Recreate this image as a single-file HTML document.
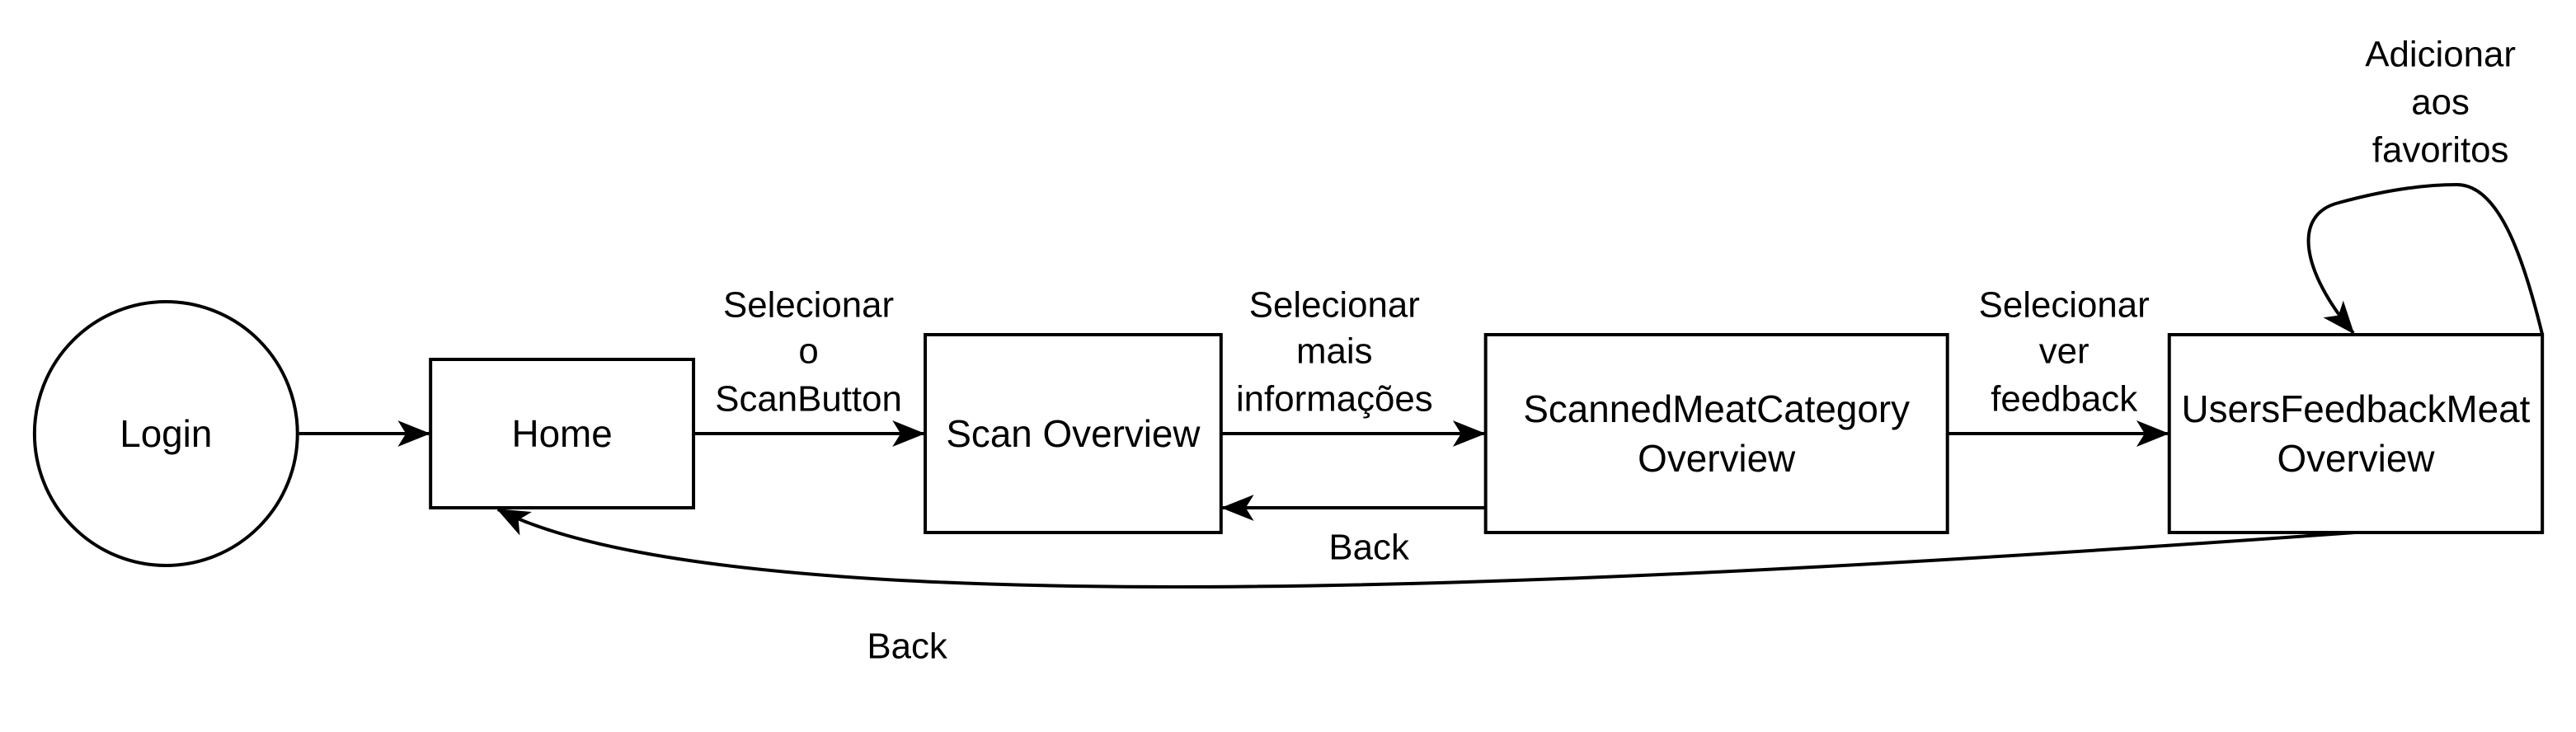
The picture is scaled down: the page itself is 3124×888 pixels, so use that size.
<!DOCTYPE html>
<html><head><meta charset="utf-8"><style>
html,body{margin:0;padding:0;background:#fff;}
svg{display:block;}
text{font-family:"Liberation Sans",Arial,sans-serif;font-size:44px;fill:#000;text-anchor:middle;dominant-baseline:central;}
text.b{font-size:46px;}
</style></head><body>
<svg width="3124" height="888" viewBox="0 0 3124 888" xmlns="http://www.w3.org/2000/svg">
<defs>
<marker id="ar" viewBox="0 0 40 32" refX="38" refY="16" markerWidth="40" markerHeight="32" orient="auto" markerUnits="userSpaceOnUse">
<path d="M0,0 L40,16 L0,32 L10,16 Z" fill="#000"/>
</marker>
</defs>
<g transform="translate(0,-2) scale(0.9965,1)">
<g fill="#fff" stroke="#000" stroke-width="4">
<circle cx="202" cy="528" r="160"/>
<rect x="524" y="438" width="320" height="180"/>
<rect x="1126" y="408" width="360" height="240"/>
<rect x="1808" y="408" width="562" height="240"/>
<rect x="2640" y="408" width="454" height="240"/>
</g>
<g fill="none" stroke="#000" stroke-width="4" marker-end="url(#ar)">
<line x1="364" y1="528" x2="522" y2="528"/>
<line x1="844" y1="528" x2="1124" y2="528"/>
<line x1="1486" y1="528" x2="1806" y2="528"/>
<line x1="2370" y1="528" x2="2638" y2="528"/>
<line x1="1808" y1="618" x2="1488" y2="618"/>
<path d="M2866,648 C2000,710 900,770 606,620"/>
<path d="M3094,408 C3070,310 3040,226 2990,226 C2940,226 2890,236 2846,248 C2790,262 2800,330 2864,406"/>
</g>
<text class="b" x="202" y="528">Login</text>
<text class="b" x="684" y="528">Home</text>
<text class="b" x="1306" y="528">Scan Overview</text>
<text class="b" x="2089" y="498">ScannedMeatCategory</text>
<text class="b" x="2089" y="558">Overview</text>
<text class="b" x="2867" y="498">UsersFeedbackMeat</text>
<text class="b" x="2867" y="558">Overview</text>
<text x="984" y="372">Selecionar</text>
<text x="984" y="428">o</text>
<text x="984" y="486">ScanButton</text>
<text x="1624" y="372">Selecionar</text>
<text x="1624" y="428">mais</text>
<text x="1624" y="486">informações</text>
<text x="2512" y="372">Selecionar</text>
<text x="2512" y="428">ver</text>
<text x="2512" y="486">feedback</text>
<text x="2970" y="68">Adicionar</text>
<text x="2970" y="126">aos</text>
<text x="2970" y="184">favoritos</text>
<text x="1666" y="666">Back</text>
<text x="1104" y="786">Back</text>
</g>
</svg>
</body></html>
